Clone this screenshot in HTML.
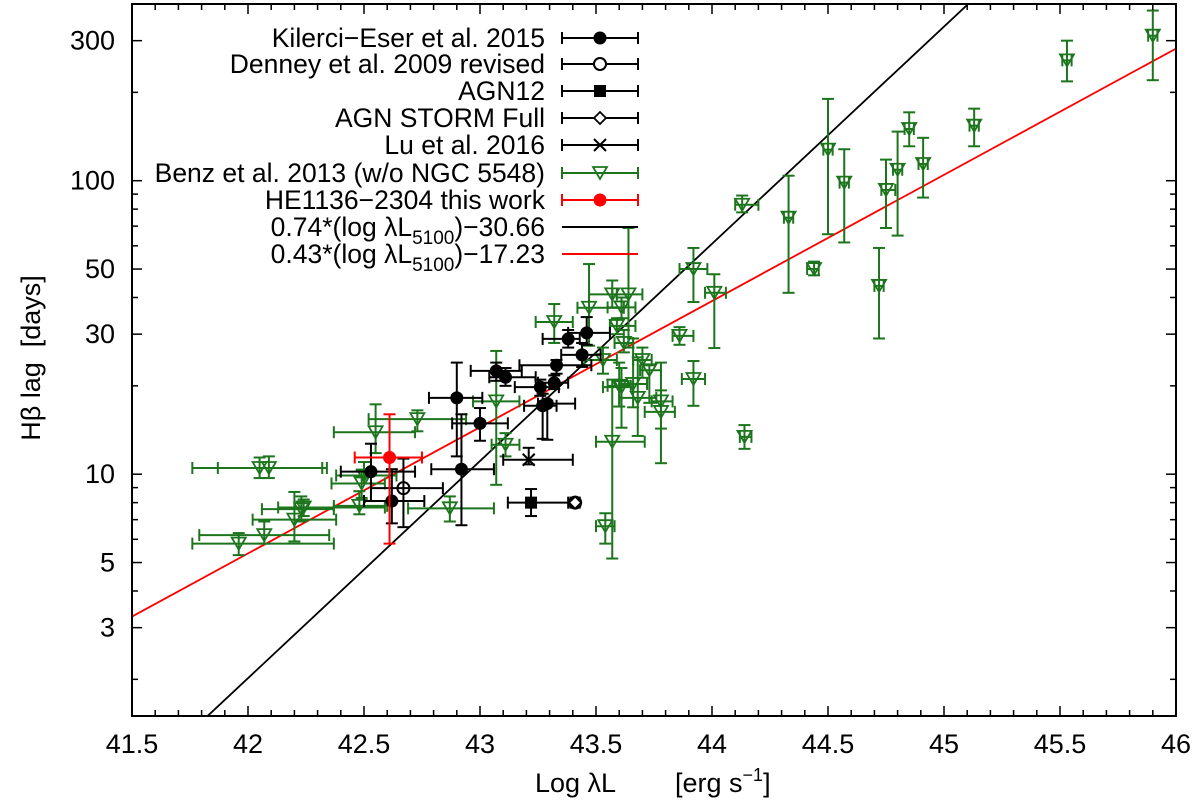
<!DOCTYPE html>
<html><head><meta charset="utf-8"><style>
html,body{margin:0;padding:0;background:#fff;}
svg{display:block;font-family:"Liberation Sans",Arial,sans-serif;}
</style></head><body>
<svg id="chart" width="1200" height="807" viewBox="0 0 1200 807" xmlns="http://www.w3.org/2000/svg">
<rect x="0" y="0" width="1200" height="807" fill="#fff"/>
<g id="marks"></g>
<g id="axes"></g>
<g id="legend"></g>
<text x="0" y="0" transform="translate(40,358) rotate(-90)" text-anchor="middle" font-size="27" xml:space="preserve">Hβ lag  [days]</text>
<text x="535" y="792" font-size="27">Log λL</text>
<text x="675" y="792" font-size="27">[erg s<tspan dy="-11" font-size="18">−1</tspan><tspan dy="11">]</tspan></text>
</svg>
<script>
// ---- data (x = log L, y = lag in days) ----
const kilX  = [42.90,42.92,43.00,43.07,43.11,43.26,43.32,43.27,43.29,43.33,43.38,43.44,43.46,42.53,42.62];
const kilXlo= [42.78,42.79,42.88,42.96,43.04,43.15,43.25,43.19,43.25,43.17,43.27,43.35,43.38,42.40,42.50];
const kilXhi= [43.01,43.06,43.12,43.18,43.24,43.34,43.38,43.33,43.41,43.48,43.43,43.52,43.56,42.72,42.76];
const kilY  = [18.2,10.4,14.9,22.5,21.4,19.8,20.5,17.1,17.4,23.5,28.9,25.5,30.3,10.2,8.1];
const kilYlo= [11.5,6.7,13.0,20.8,20.0,18.5,19.5,13.2,13.1,22.0,27.0,23.2,27.6,8.1,6.8];
const kilYhi= [24.0,16.0,16.8,24.0,23.0,21.0,21.7,18.8,17.8,24.5,31.0,28.0,34.3,12.7,10.4];

const denX=[42.67], denXlo=[42.53], denXhi=[42.84], denY=[8.96], denYlo=[6.6], denYhi=[11.3];
const agnX=[43.22], agnXlo=[43.12], agnXhi=[43.38], agnY=[8.0], agnYlo=[7.2], agnYhi=[8.9];
const stoX=[43.41], stoXlo=[43.39], stoXhi=[43.43], stoY=[8.0], stoYlo=[7.8], stoYhi=[8.2];
const luX=[43.21], luXlo=[43.10], luXhi=[43.40], luY=[11.2], luYlo=[10.8], luYhi=[12.3];
const heX=[42.61], heXlo=[42.46], heXhi=[42.75], heY=[11.4], heYlo=[5.8], heYhi=[16.0];

const benX  = [41.96,42.07,42.20,42.23,42.24,42.05,42.09,42.48,42.49,42.50,42.55,42.73,42.87,43.07,43.11,43.32,43.47,43.57,43.64,43.61,43.59,43.86,43.92,44.01,43.92,43.57,43.54,43.61,43.68,43.70,43.73,43.78,43.78,43.53,43.62,43.66,43.60,44.14,44.13,44.33,44.44,44.50,44.57,44.72,44.75,44.80,44.85,44.91,45.13,45.53,45.90];
const benXlo= [41.76,41.79,42.02,42.06,42.13,41.76,41.87,42.37,42.36,42.38,42.37,42.52,42.69,42.97,43.05,43.24,43.42,43.47,43.57,43.55,43.56,43.83,43.86,43.97,43.87,43.50,43.50,43.53,43.60,43.66,43.69,43.74,43.71,43.45,43.58,43.60,43.55,44.12,44.10,44.31,44.41,44.48,44.55,44.70,44.73,44.78,44.83,44.89,45.11,45.51,45.88];
const benXhi= [42.37,42.35,42.38,42.37,42.59,42.32,42.34,42.60,42.59,42.64,42.72,42.94,43.06,43.17,43.17,43.40,43.62,43.59,43.70,43.67,43.67,43.92,43.98,44.06,43.97,43.71,43.58,43.66,43.76,43.74,43.78,43.83,43.84,43.59,43.66,43.72,43.65,44.17,44.20,44.35,44.46,44.52,44.59,44.74,44.79,44.82,44.87,44.93,45.15,45.55,45.92];
const benY  = [5.8,6.2,7.0,7.6,7.7,10.5,10.5,7.8,9.3,9.9,13.9,15.4,7.65,17.7,12.6,33,36.9,41,41,37,32,29.6,50,41.5,21.1,12.9,6.65,19.8,18.2,24.5,22.6,17.7,16.3,24.5,28,20.3,20,13.4,82.8,74.8,50,127.6,98.5,43.8,93,109,150,114,154,257,312];
const benYlo= [5.3,5.8,5.9,6.9,7.2,9.7,9.7,7.3,8.3,9.3,11.8,14.0,6.9,9.2,11.5,28,27.4,36.9,27,34,30,27.6,38.6,26.9,17.1,5.16,5.8,14.4,13.5,21.3,17.5,10.9,14.3,22,26,16.9,17,12.2,78,41.5,47.6,65.7,61.6,29,69,65,131,87.6,131,218,220];
const benYhi= [6.3,6.9,8.7,8.4,8.2,11.4,11.5,8.75,10.3,11.0,17.3,16.5,8.4,26.3,13.8,38,52,45.7,69,40,34,31.7,59,48,24.3,21,7.36,23,25,27,23.5,24,19.3,27,31,29,24,14.7,89,104,53,190,128,59,118,147,171,140,176,300,380];

const fitBlackSlope=0.74, fitBlackInt=-30.775;
const fitRedSlope=0.43, fitRedInt=-17.33;

const xTicks=[41.5,42,42.5,43,43.5,44,44.5,45,45.5,46];
const xTickLabels=["41.5","42","42.5","43","43.5","44","44.5","45","45.5","46"];
const yTicks=[3,5,10,30,50,100,300];
const yTickLabels=["3","5","10","30","50","100","300"];

// ---- axes ----
const L=132,R=1176,T=4,B=716;
const XMIN=41.5,XMAX=46,YMIN=1.5,YMAX=400;
function sx(v){return L+(v-XMIN)/(XMAX-XMIN)*(R-L);}
function sy(v){return B-(Math.log10(v)-Math.log10(YMIN))/(Math.log10(YMAX)-Math.log10(YMIN))*(B-T);}
const NS="http://www.w3.org/2000/svg";
function mk(tag,attrs,parent){const e=document.createElementNS(NS,tag);for(const k in attrs)e.setAttribute(k,attrs[k]);parent.appendChild(e);return e;}
const marks=document.getElementById('marks'),axes=document.getElementById('axes'),legend=document.getElementById('legend');

const defs=mk('defs',{},document.getElementById('chart'));
const cp=mk('clipPath',{id:'clip'},defs);mk('rect',{x:L,y:T,width:R-L,height:B-T},cp);
marks.setAttribute('clip-path','url(#clip)');

function fitLine(slope,intc,color,name){
  const x1=XMIN,x2=XMAX;
  const l=mk('line',{x1:sx(x1),y1:sy(Math.pow(10,slope*x1+intc)),x2:sx(x2),y2:sy(Math.pow(10,slope*x2+intc)),stroke:color,'stroke-width':1.8},marks);
  
  
}

function errbar(g,x,xlo,xhi,y,ylo,yhi,color){
  const c=6;
  mk('line',{x1:sx(xlo),y1:sy(y),x2:sx(xhi),y2:sy(y),stroke:color,'stroke-width':2},g);
  mk('line',{x1:sx(xlo),y1:sy(y)-c,x2:sx(xlo),y2:sy(y)+c,stroke:color,'stroke-width':2},g);
  mk('line',{x1:sx(xhi),y1:sy(y)-c,x2:sx(xhi),y2:sy(y)+c,stroke:color,'stroke-width':2},g);
  mk('line',{x1:sx(x),y1:sy(ylo),x2:sx(x),y2:sy(yhi),stroke:color,'stroke-width':2},g);
  mk('line',{x1:sx(x)-c,y1:sy(ylo),x2:sx(x)+c,y2:sy(ylo),stroke:color,'stroke-width':2},g);
  mk('line',{x1:sx(x)-c,y1:sy(yhi),x2:sx(x)+c,y2:sy(yhi),stroke:color,'stroke-width':2},g);
}
function marker(g,type,px,py,color){
  if(type==='fcircle')mk('circle',{cx:px,cy:py,r:6.5,fill:color},g);
  else if(type==='ocircle')mk('circle',{cx:px,cy:py,r:6,fill:'none',stroke:color,'stroke-width':2},g);
  else if(type==='square')mk('rect',{x:px-6,y:py-6,width:12,height:12,fill:color},g);
  else if(type==='diamond'){mk('polygon',{points:`${px},${py-6} ${px+6},${py} ${px},${py+6} ${px-6},${py}`,fill:'#fff',stroke:color,'stroke-width':1.8},g);}
  else if(type==='cross'){mk('line',{x1:px-6,y1:py-6,x2:px+6,y2:py+6,stroke:color,'stroke-width':2},g);mk('line',{x1:px-6,y1:py+6,x2:px+6,y2:py-6,stroke:color,'stroke-width':2},g);}
  else if(type==='tri')mk('polygon',{points:`${px-7},${py-6} ${px+7},${py-6} ${px},${py+6}`,fill:'none',stroke:color,'stroke-width':1.8},g);
}
function series(name,X,Xlo,Xhi,Y,Ylo,Yhi,color,type){
  const g=mk('g',{},marks);
  
  
  for(let i=0;i<X.length;i++){
    const p=mk('g',{},g);
    
    
    errbar(p,X[i],Xlo[i],Xhi[i],Y[i],Ylo[i],Yhi[i],color);
    if(name==='agn-storm-series')marker(p,'ocircle',sx(X[i]),sy(Y[i]),color);
    marker(p,type,sx(X[i]),sy(Y[i]),color);
  }
}
const GREEN='#1c751c';
fitLine(fitRedSlope,fitRedInt,'#ff0000','fit-line-red');
fitLine(fitBlackSlope,fitBlackInt,'#000','fit-line-black');
series('benz-series',benX,benXlo,benXhi,benY,benYlo,benYhi,GREEN,'tri');
series('kilerci-series',kilX,kilXlo,kilXhi,kilY,kilYlo,kilYhi,'#000','fcircle');
series('denney-series',denX,denXlo,denXhi,denY,denYlo,denYhi,'#000','ocircle');
series('agn12-series',agnX,agnXlo,agnXhi,agnY,agnYlo,agnYhi,'#000','square');
series('agn-storm-series',stoX,stoXlo,stoXhi,stoY,stoYlo,stoYhi,'#000','diamond');
series('lu-series',luX,luXlo,luXhi,luY,luYlo,luYhi,'#000','cross');
series('he1136-series',heX,heXlo,heXhi,heY,heYlo,heYhi,'#ff0000','fcircle');

const fr=mk('rect',{x:L,y:T,width:R-L,height:B-T,fill:'none',stroke:'#000','stroke-width':2},axes);


for(let v=41.5;v<=46.001;v+=0.1){
  const major=Math.abs(v*2-Math.round(v*2))<1e-6;
  const len=major?10:6;
  mk('line',{x1:sx(v),y1:B,x2:sx(v),y2:B-len,stroke:'#000','stroke-width':1.5},axes);
  mk('line',{x1:sx(v),y1:T,x2:sx(v),y2:T+len,stroke:'#000','stroke-width':1.5},axes);
}
xTicks.forEach((v,i)=>{
  const t=mk('text',{x:sx(v),y:753,'text-anchor':'middle','font-size':27},axes);
  t.textContent=xTickLabels[i];
  
  
});
const minorY=[2,3,4,5,6,7,8,9,10,20,30,40,50,60,70,80,90,100,200,300,400];
minorY.forEach(v=>{
  const major=yTicks.indexOf(v)>=0;
  const len=major?10:6;
  mk('line',{x1:L,y1:sy(v),x2:L+len,y2:sy(v),stroke:'#000','stroke-width':1.5},axes);
  mk('line',{x1:R,y1:sy(v),x2:R-len,y2:sy(v),stroke:'#000','stroke-width':1.5},axes);
});
yTicks.forEach((v,i)=>{
  const t=mk('text',{x:115,y:sy(v)+9,'text-anchor':'end','font-size':27},axes);
  t.textContent=yTickLabels[i];
  
  
});

const legEntries=[
 ['Kilerci−Eser et al. 2015','#000','fcircle',true],
 ['Denney et al. 2009 revised','#000','ocircle',true],
 ['AGN12','#000','square',true],
 ['AGN STORM Full','#000','diamond',true],
 ['Lu et al. 2016','#000','cross',true],
 ['Benz et al. 2013 (w/o NGC 5548)',GREEN,'tri',true],
 ['HE1136−2304 this work','#ff0000','fcircle',true],
 ['0.74*(log λL5100)−30.66','#000',null,false],
 ['0.43*(log λL5100)−17.23','#ff0000',null,false]
];
const legY=[38,64,91,118,145,173,200,227,254];
legEntries.forEach((e,i)=>{
  const g=mk('g',{},legend);
  
  
  const y=legY[i];
  const t=mk('text',{x:545,y:y+9,'text-anchor':'end','font-size':26.5},g);
  if(i<7)t.textContent=e[0];
  else{
    const parts=e[0].split('5100');
    t.appendChild(document.createTextNode(parts[0]));
    const s=mk('tspan',{dy:8,'font-size':19},t);s.textContent='5100';
    const s2=mk('tspan',{dy:-8},t);s2.textContent=parts[1];
  }
  mk('line',{x1:562,y1:y,x2:638,y2:y,stroke:e[1],'stroke-width':2},g);
  if(e[3]){
    mk('line',{x1:562,y1:y-6,x2:562,y2:y+6,stroke:e[1],'stroke-width':2},g);
    mk('line',{x1:638,y1:y-6,x2:638,y2:y+6,stroke:e[1],'stroke-width':2},g);
    if(e[2]==='ocircle'||e[2]==='diamond')mk('rect',{x:594,y:y-7,width:12,height:14,fill:'#fff'},g);
    marker(g,e[2],600,y,e[1]);
  }
});
</script>
</body></html>
